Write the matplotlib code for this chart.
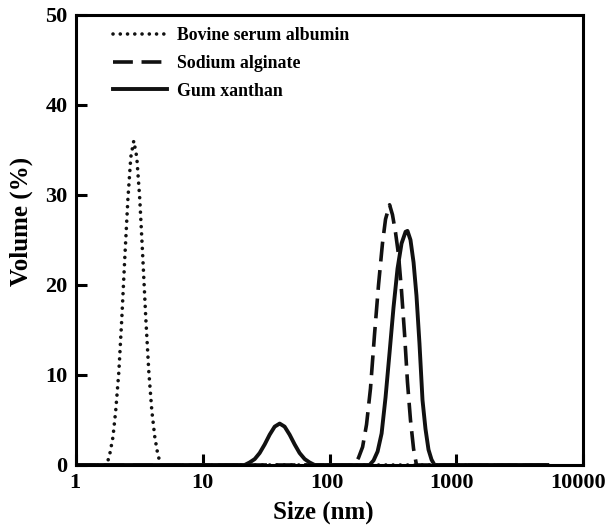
import matplotlib
matplotlib.use("Agg")
import matplotlib.pyplot as plt
from matplotlib.transforms import ScaledTranslation

# size (nm) / volume (%)
bsa_size = [1.0, 1.75, 1.85, 1.96, 2.06, 2.18, 2.30, 2.43, 2.57, 2.71, 2.86,
            3.02, 3.19, 3.37, 3.56, 3.76, 3.97, 4.19, 4.42, 4.67, 5200]
bsa_vol = [0, 0, 1.2, 3.1, 6.0, 10.3, 16.2, 23.0, 29.5, 34.2, 36.0,
           34.2, 29.5, 23.0, 16.2, 10.3, 6.0, 3.1, 1.2, 0, 0]

alg_size = [1.0, 157.4, 169, 182, 195.5, 210, 226, 243, 261, 276, 297,
            313, 331, 349, 369, 390, 411, 434, 459, 484, 5200]
alg_vol = [0, 0, 0.8, 2.0, 4.5, 8.5, 14.5, 20.0, 24.6, 27.3, 28.9,
           27.8, 25.8, 23.4, 19.3, 14.5, 9.2, 5.0, 1.8, 0, 0]

gum_size = [1.0, 21.4, 23.4, 25.7, 28.1, 30.8, 33.7, 36.9, 40.4, 44.2, 48.4,
            53.0, 58.0, 63.6, 69.6, 76.2,
            206.5, 222, 239, 257, 276, 297, 319, 343, 369, 397, 411,
            434, 459, 484, 511, 540, 570, 602, 636, 671, 5200]
gum_vol = [0, 0, 0.28, 0.66, 1.33, 2.29, 3.37, 4.26, 4.6, 4.26, 3.37,
           2.29, 1.33, 0.66, 0.28, 0,
           0, 0.5, 1.5, 3.5, 7.5, 12.5, 17.5, 21.8, 24.6, 25.9, 26.0,
           25.0, 22.5, 18.8, 13.5, 7.2, 4.0, 1.7, 0.6, 0, 0]

labels = ["Bovine serum albumin", "Sodium alginate", "Gum xanthan"]
x_ticks = [1, 10, 100, 1000, 10000]
y_ticks = [0, 10, 20, 30, 40, 50]

plt.rcParams["font.family"] = ["Liberation Serif", "DejaVu Serif"]
plt.rcParams["font.weight"] = "bold"

fig = plt.figure(figsize=(6.07, 5.29), dpi=100)
ax = fig.add_axes([0.125, 0.121, 0.836, 0.851])

ax.plot(bsa_size, bsa_vol, color="#111111", lw=2.6,
        linestyle=(0, (0.01, 2.0)), dash_capstyle="round", label=labels[0])
ax.plot(alg_size, alg_vol, color="#111111", lw=2.6,
        linestyle=(0, (5.5, 2.4)), label=labels[1])
ax.plot(gum_size, gum_vol, color="#111111", lw=2.8, label=labels[2])

ax.set_xscale("log")
ax.set_xlim(1, 10000)
ax.set_ylim(0, 50)
ax.set_xticks(x_ticks)
ax.set_xticklabels([str(t) for t in x_ticks])
ax.set_yticks(y_ticks)
ax.minorticks_off()
ax.tick_params(direction="in", length=8, width=2.2, labelsize=16, pad=6)

# the original's x tick labels sit slightly left of their ticks
for lbl, dx in zip(ax.get_xticklabels(), [-1, 0, -3, -5, -5]):
    lbl.set_transform(lbl.get_transform()
                      + ScaledTranslation(dx / 100, 0, fig.dpi_scale_trans))

for s in ax.spines.values():
    s.set_linewidth(2.2)

ax.set_xlabel("Size (nm)", fontsize=18, fontweight="bold")
ax.xaxis.set_label_coords(0.487, -0.078)
ax.set_ylabel("Volume (%)", fontsize=18, fontweight="bold")
ax.yaxis.set_label_coords(-0.085, 0.54)

ax.legend(loc="upper left", frameon=False, handlelength=3.0,
          handletextpad=0.55, labelspacing=0.6, borderaxespad=0.0,
          bbox_to_anchor=(0.06, 0.988),
          prop={"weight": "bold", "size": 12.8})

fig.savefig("out.png", dpi=100)
